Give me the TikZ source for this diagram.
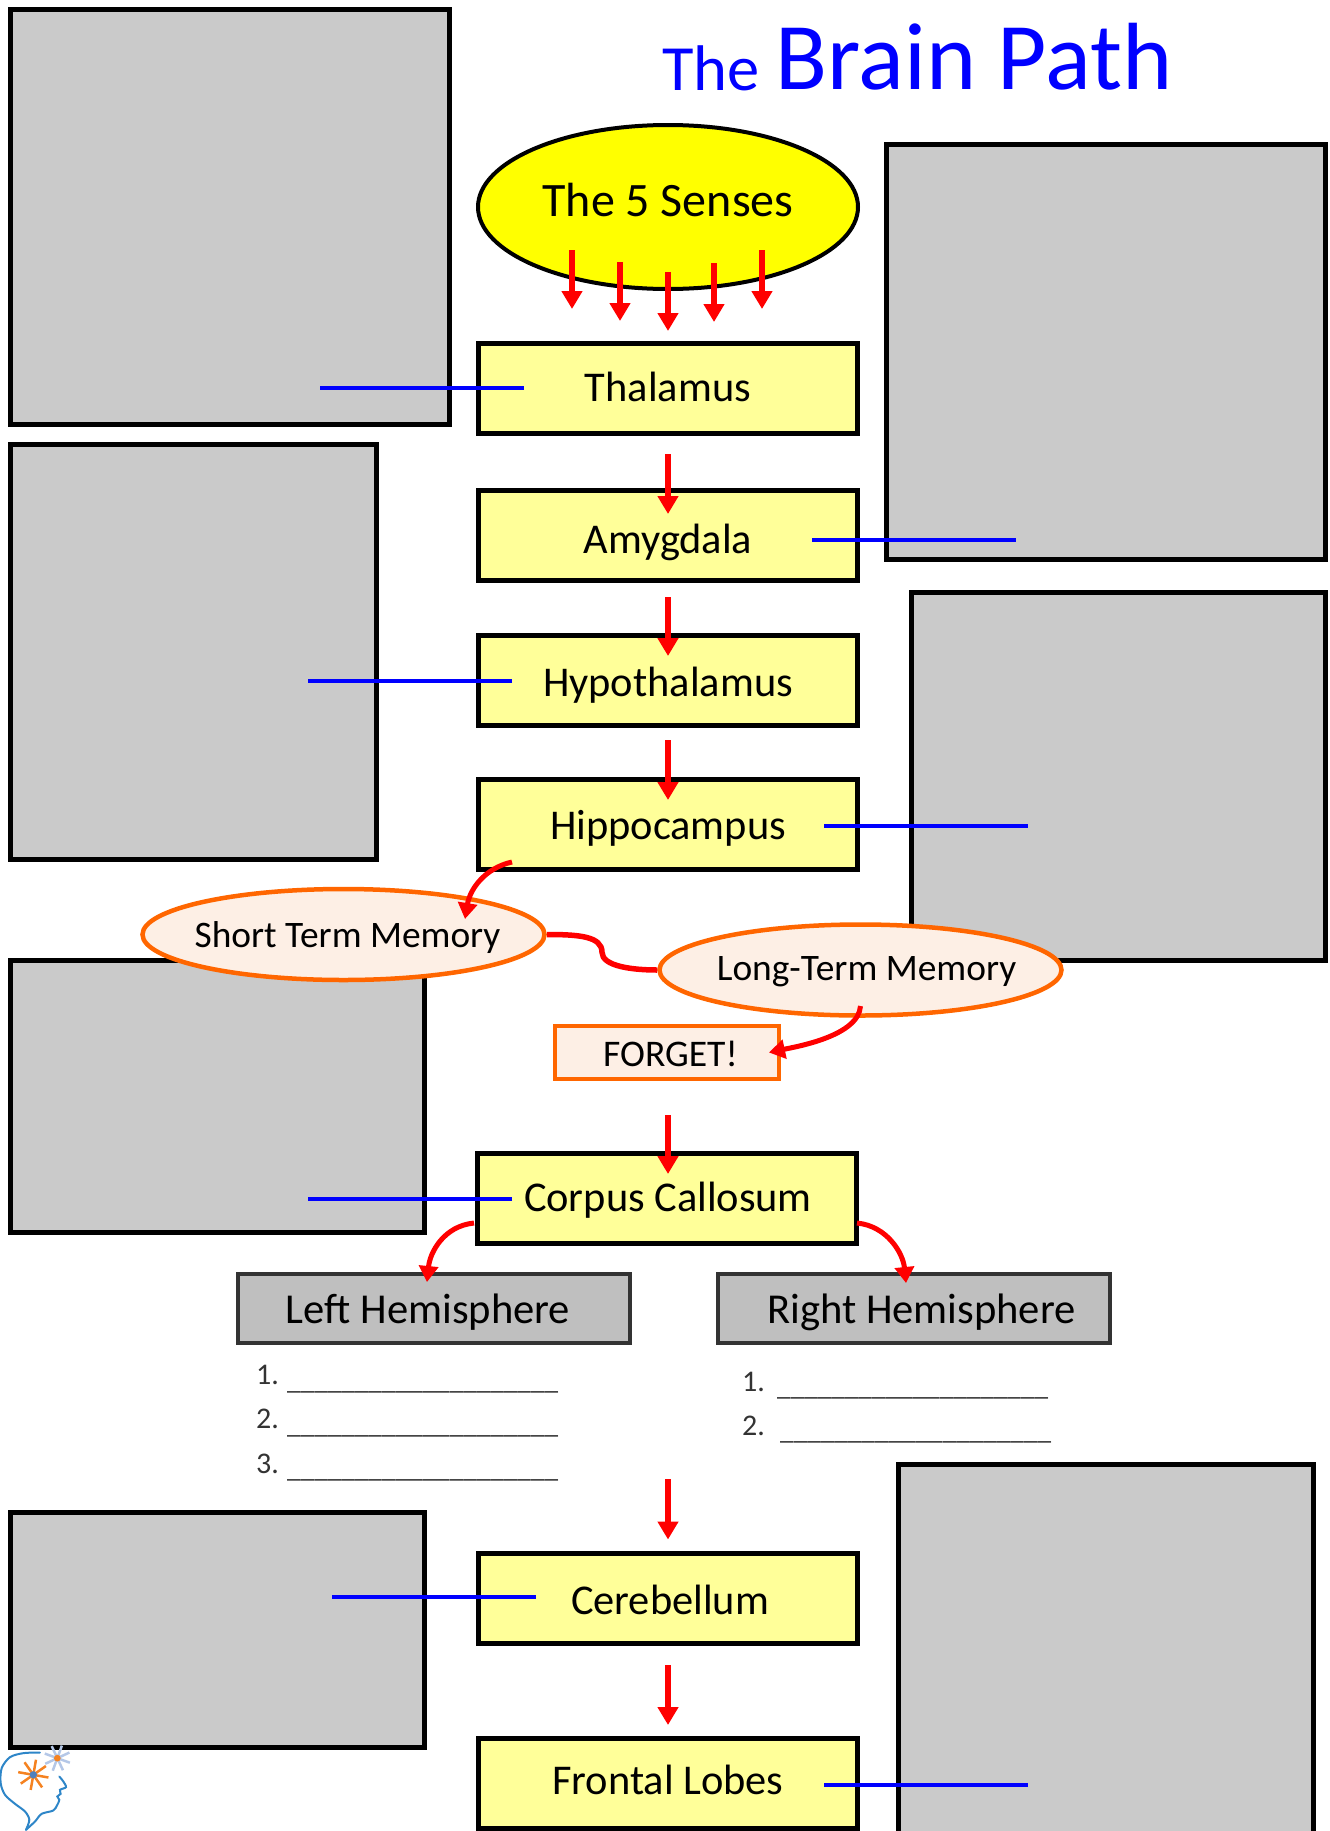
\documentclass[tikz,border=0pt]{standalone}
\usepackage{fontspec}
\setmainfont{Carlito}
\usetikzlibrary{arrows.meta,calc,shapes.geometric}
\definecolor{picgray}{HTML}{CACACA}
\definecolor{paleyellow}{HTML}{FFFF99}
\definecolor{sensesyellow}{HTML}{FFFF00}
\definecolor{peach}{HTML}{FDEFE5}
\definecolor{orangeline}{HTML}{FF6600}
\definecolor{hemifill}{HTML}{BFBFBF}
\definecolor{hemiline}{HTML}{333333}
\definecolor{logoblue}{HTML}{2E86C8}
\definecolor{logolight}{HTML}{B4C7E7}
\definecolor{logoorange}{HTML}{F58220}
\definecolor{logodot}{HTML}{4F81BD}
\definecolor{listtext}{HTML}{333333}
\definecolor{purered}{HTML}{FF0000}
\definecolor{pureblue}{HTML}{0000FF}
\tikzset{
  picbox/.style={draw=black,line width=5pt,fill=picgray,inner sep=0pt,anchor=north west},
  ybox/.style={draw=black,line width=5pt,fill=paleyellow,minimum width=379pt,minimum height=90pt,inner sep=0pt,text depth=0pt,font=\fontsize{42.4}{48}\selectfont},
  hemi/.style={draw=hemiline,line width=4.5pt,fill=hemifill,minimum width=392pt,minimum height=69pt,inner sep=0pt,text height=29pt,text depth=0pt,font=\fontsize{42.6}{48}\selectfont},
  mem/.style={ellipse,draw=orangeline,line width=4.5pt,fill=peach,minimum width=402pt,minimum height=91pt,inner sep=0pt,text depth=0pt,font=\fontsize{37.4}{44}\selectfont},
  darr/.style={draw=purered,line width=5.5pt,-{Triangle[width=20pt,length=18pt]}},
  carr/.style={draw=purered,line width=5pt,-{Triangle[width=19pt,length=16pt]}},
  blueline/.style={draw=pureblue,line width=4pt},
  listnum/.style={anchor=base west,inner sep=0pt,text=listtext,font=\fontsize{30}{34}\selectfont},
  listline/.style={anchor=base west,inner sep=0pt,text=listtext,font=\fontsize{27.2}{32}\selectfont},
}
\newcommand{\blanks}{\_\_\_\_\_\_\_\_\_\_\_\_\_\_\_\_\_\_\_\_}
\begin{document}
\begin{tikzpicture}[x=1pt,y=-1pt]
\useasboundingbox (0,0) rectangle (1330,1831);
% picture placeholders
\node[picbox,minimum width=439pt,minimum height=415pt] (g1) at (8,6.5) {};
\node[picbox,minimum width=439pt,minimum height=415pt] (g2) at (884,142) {};
\node[picbox,minimum width=366pt,minimum height=415pt] (g3) at (8,442) {};
\node[picbox,minimum width=414pt,minimum height=368pt] (g4) at (909,590) {};
\node[picbox,minimum width=414pt,minimum height=272pt] (g5) at (8,958) {};
\node[picbox,minimum width=414pt,minimum height=235pt] (g6) at (8,1510) {};
\node[picbox,minimum width=415pt,minimum height=380pt] (g7) at (896,1461.5) {};
% title
\node[anchor=base west,inner sep=0pt,text=pureblue,font=\fontsize{64.5}{70}\selectfont] (the) at (662,90) {The};
\node[anchor=base west,inner sep=0pt,text=pureblue,font=\fontsize{95.5}{100}\selectfont] (bp) at (775,89) {Brain Path};
% main column
\node[ellipse,draw=black,line width=4pt,fill=sensesyellow,minimum width=380pt,minimum height=164pt,inner sep=0pt,text height=18pt,text depth=0pt,font=\fontsize{48}{56}\selectfont] (senses) at (668,207) {\makebox[0pt]{The 5 Senses}};
\node[ybox,text height=27.8pt] (thal) at (668,388) {Thalamus};
\node[ybox,text height=36.6pt] (amyg) at (668,535.5) {Amygdala};
\node[ybox,text height=31.6pt] (hypo) at (668,680.5) {Hypothalamus};
\node[ybox,text height=29.6pt] (hipp) at (668,824.5) {Hippocampus};
\node[mem,text height=25.6pt] (short) at (343.5,934.5) {\makebox[0pt]{\hspace{8pt}Short Term Memory}};
\node[mem,text height=20.4pt] (long) at (860.5,970) {\makebox[0pt]{\hspace{12pt}Long-Term Memory}};
\node[draw=orangeline,line width=4.5pt,fill=peach,minimum width=224pt,minimum height=53pt,inner sep=0pt,text height=27pt,text depth=0pt,font=\fontsize{37.6}{44}\selectfont] (forget) at (667,1052.5) {\hspace{7pt}FORGET!};
\node[ybox,text height=25.6pt] (corp) at (666.5,1198.5) {\hspace{3pt}Corpus Callosum};
\node[hemi] (left) at (434,1308.5) {Left Hemisphere\hspace{12pt}\mbox{}};
\node[hemi] (right) at (914,1308.5) {\hspace{15pt}Right Hemisphere};
\node[ybox,text height=32.6pt] (cere) at (668,1598.5) {\hspace{4pt}Cerebellum};
\node[ybox,text height=23.6pt] (front) at (668,1783) {Frontal Lobes};
% lists
\node[listnum] (l1) at (256,1384) {1.};
\node[listnum] (l2) at (256,1428) {2.};
\node[listnum] (l3) at (256,1473) {3.};
\node[listline] (l1b) at (287,1389) {\blanks};
\node[listline] (l2b) at (287,1433) {\blanks};
\node[listline] (l3b) at (287,1477) {\blanks};
\node[listnum] (r1) at (742,1391) {1.};
\node[listnum] (r2) at (742,1435) {2.};
\node[listline] (r1b) at (777,1395) {\blanks};
\node[listline] (r2b) at (780,1439) {\blanks};
% senses arrows
\draw[darr] ([shift={(-96pt,-43pt)}]senses.center) -- ([shift={(-96pt,79pt)}]thal.center);
\draw[darr] ([shift={(-48pt,-55pt)}]senses.center) -- ([shift={(-48pt,67pt)}]thal.center);
\draw[darr] ([shift={(0pt,-65pt)}]senses.center) -- ([shift={(0pt,57pt)}]thal.center);
\draw[darr] ([shift={(46pt,-56pt)}]senses.center) -- ([shift={(46pt,66pt)}]thal.center);
\draw[darr] ([shift={(94pt,-43pt)}]senses.center) -- ([shift={(94pt,79pt)}]thal.center);
% straight column arrows
\draw[darr] ([yshift=-66pt]thal.center) -- ([yshift=21.5pt]amyg.center);
\draw[darr] ([yshift=-61.5pt]amyg.center) -- ([yshift=24.5pt]hypo.center);
\draw[darr] ([yshift=-59.5pt]hypo.center) -- ([yshift=24.5pt]hipp.center);
\draw[darr] ([shift={(1pt,-62.5pt)}]forget.center) -- ([shift={(1.5pt,24.5pt)}]corp.center);
\coordinate (listgap) at (668,1479);
\draw[darr] (listgap) -- ([yshift=59pt]cere.center);
\draw[darr] ([yshift=-66.5pt]cere.center) -- ([yshift=58pt]front.center);
% curved arrows
\draw[carr] ([shift={(-156pt,-37.5pt)}]hipp.center) .. controls +(-27,6) and +(5,-30) .. ([shift={(121.5pt,15.5pt)}]short.center);
\draw[draw=purered,line width=5.5pt] (short.east) .. controls +(32,0) and +(0,-16) .. ($(short.east)!.5!(long.west)$) .. controls +(0,14) and +(-25,0) .. (long.west);
\draw[carr] ([yshift=-36pt]long.center) .. controls +(-2,30) and +(28,-6) .. ([xshift=102pt]forget.center);
\draw[carr] ([shift={(-192.5pt,-24.5pt)}]corp.center) .. controls +(-30,3) and +(3,-30) .. ([shift={(-7pt,26.5pt)}]left.center);
\draw[carr] ([shift={(190.5pt,-24.5pt)}]corp.center) .. controls +(30,3) and +(-3,-30) .. ([shift={(-8pt,25.5pt)}]right.center);
% blue leader lines
\draw[blueline] ([xshift=-144pt]thal.center) -- +(-204,0);
\draw[blueline] ([shift={(144pt,-4.5pt)}]amyg.center) -- +(204,0);
\draw[blueline] ([xshift=-156pt]hypo.center) -- +(-204,0);
\draw[blueline] ([shift={(156pt,-1.5pt)}]hipp.center) -- +(204,0);
\draw[blueline] ([xshift=-154.5pt]corp.center) -- +(-204,0);
\draw[blueline] ([shift={(-132pt,1.5pt)}]cere.center) -- +(-204,0);
\draw[blueline] ([shift={(156pt,-2pt)}]front.center) -- +(204,0);
% logo
\begin{scope}[x=0.3333pt,y=-0.3333pt,shift={(0,5100)}]
\draw[logoblue,line width=2pt,line cap=round] plot[smooth] coordinates {(120,158)(70,160)(30,172)(5,205)(2,250)(15,285)(45,312)(75,335)(88,360)(78,390)};
\draw[logoblue,line width=2pt,line cap=round] plot[smooth] coordinates {(78,390)(105,365)(125,342)(160,332)(172,315)(178,300)(172,290)(182,282)(180,270)(198,262)(190,245)(178,230)};
\foreach \a in {0,45,...,315} \draw[logolight,line width=2.5pt] (172,175) -- +(\a+20:40);
\fill[logoorange] (172,175) circle[radius=10];
\foreach \a in {0,45,...,315} \draw[logoorange,line width=2.5pt] (100,225) -- +(\a+10:46);
\fill[logodot] (100,225) circle[radius=11];
\end{scope}
\end{tikzpicture}
\end{document}
